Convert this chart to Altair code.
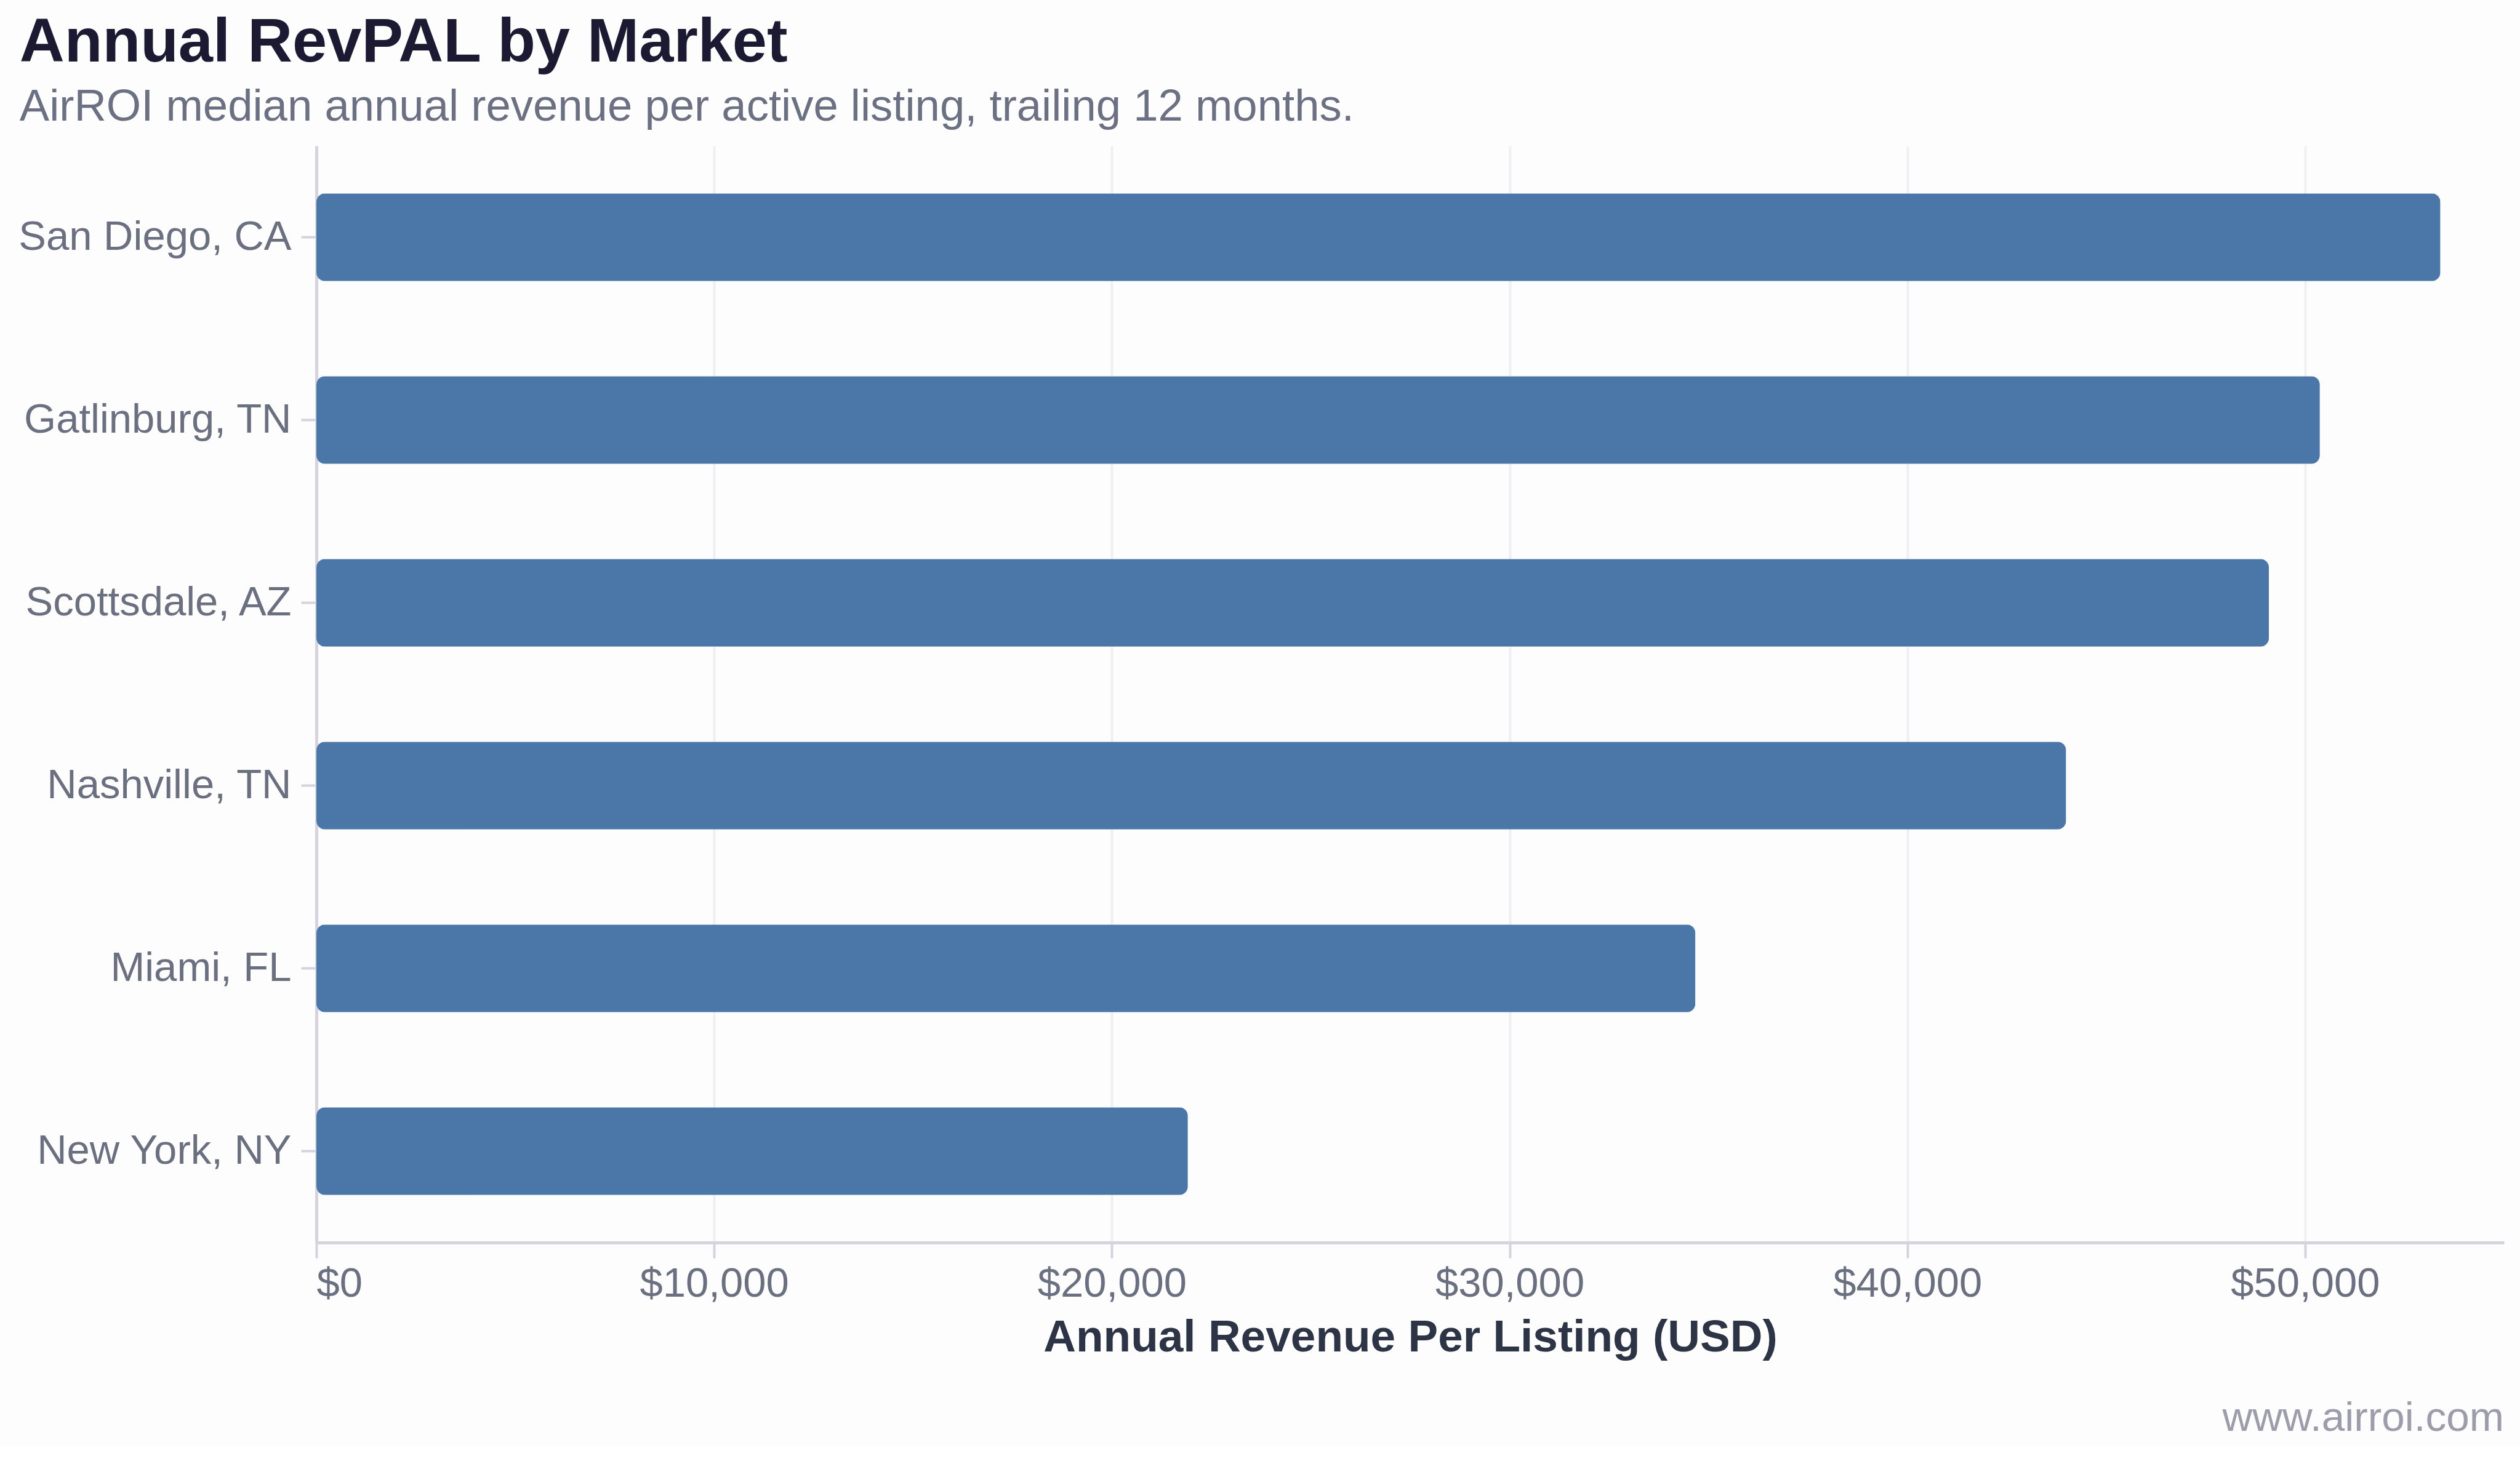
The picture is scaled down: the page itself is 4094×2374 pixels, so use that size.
import altair as alt
import pandas as pd

# Median annual revenue per active listing (trailing 12 months), USD
markets = ["San Diego, CA", "Gatlinburg, TN", "Scottsdale, AZ", "Nashville, TN", "Miami, FL", "New York, NY"]
revenue = [53400, 50370, 49090, 43990, 34670, 21910]
x_ticks = [0, 10000, 20000, 30000, 40000, 50000]

df = pd.DataFrame({"market": markets, "revenue": revenue})

FONT = "Liberation Sans"
W, H = 3554, 1782

bars = alt.Chart(df).mark_bar(color="#4a76a8", cornerRadius=14).encode(
    y=alt.Y(
        "market:N",
        sort=markets,
        title=None,
        scale=alt.Scale(paddingInner=0.52, paddingOuter=0.26),
        axis=alt.Axis(
            labelFont=FONT, labelFontSize=67, labelColor="#6b7080", labelLimit=0,
            labelPadding=16, tickSize=25, tickColor="#d6d3de", tickWidth=4,
            domainColor="#d6d3de", domainWidth=5, grid=False,
        ),
    ),
    x=alt.X(
        "revenue:Q",
        title="Annual Revenue Per Listing (USD)",
        scale=alt.Scale(domain=[0, 55000], nice=False),
        axis=alt.Axis(
            values=x_ticks, format="$,.0f",
            labelFont=FONT, labelFontSize=67, labelColor="#6b7080", labelLimit=0,
            labelPadding=9, tickSize=25, tickColor="#d6d3de", tickWidth=4,
            domainColor="#d6d3de", domainWidth=5,
            grid=True, gridColor="#f0eff4", gridWidth=4,
            titleFont=FONT, titleFontSize=73, titleFontWeight="bold",
            titleColor="#2d3446", titlePadding=18, titleLimit=0,
        ),
    ),
)

footer = alt.Chart(pd.DataFrame({"t": ["www.airroi.com"]})).mark_text(
    align="right", baseline="alphabetic", font=FONT, fontSize=67.5, color="#9c9cab"
).encode(
    text="t:N",
    x=alt.value(W),
    y=alt.value(2088),
)

chart = (
    alt.layer(bars, footer)
    .properties(
        width=W,
        height=H,
        padding={"left": 29, "top": 18, "right": 26, "bottom": 10},
        background="#fdfdfd",
        title=alt.TitleParams(
            text="Annual RevPAL by Market",
            subtitle="AirROI median annual revenue per active listing, trailing 12 months.",
            anchor="start",
            frame="bounds",
            dx=2,
            font=FONT,
            fontSize=101,
            fontWeight="bold",
            color="#1c1a33",
            subtitleFont=FONT,
            subtitleFontSize=72.5,
            subtitleColor="#6c7083",
            subtitlePadding=18,
            offset=26,
            limit=0,
        ),
    )
    .configure_view(stroke=None)
)

chart.save("out.html", embed_options={"renderer": "svg", "actions": False})
